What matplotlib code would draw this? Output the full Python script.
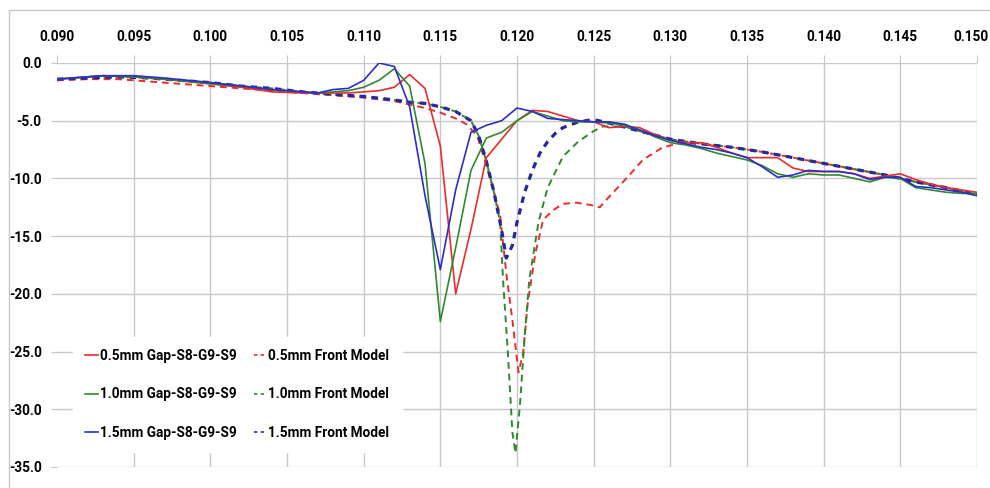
import matplotlib
matplotlib.use("Agg")
import matplotlib.pyplot as plt
import matplotlib.transforms as mtransforms
from matplotlib.patches import Rectangle
from matplotlib.lines import Line2D

plt.rcParams['axes.unicode_minus'] = False
plt.rcParams['font.family'] = ['Roboto', 'DejaVu Sans']

# measured curves (solid)
x_meas = [0.090, 0.093, 0.095, 0.097, 0.100, 0.102, 0.104, 0.106, 0.107, 0.108,
          0.109, 0.110, 0.111, 0.112, 0.113, 0.114, 0.115, 0.116, 0.117, 0.118,
          0.119, 0.120, 0.121, 0.122, 0.123, 0.124, 0.125, 0.126, 0.127, 0.128,
          0.129, 0.130, 0.131, 0.132, 0.133, 0.134, 0.135, 0.136, 0.137, 0.138,
          0.139, 0.140, 0.141, 0.142, 0.143, 0.144, 0.145, 0.146, 0.147, 0.148,
          0.149, 0.150]
y_gap05 = [-1.4, -1.1, -1.2, -1.4, -1.8, -2.1, -2.5, -2.6, -2.6, -2.6,
           -2.6, -2.5, -2.4, -2.1, -1.0, -2.2, -7.2, -20.0, -14.4, -8.2,
           -6.6, -5.0, -4.1, -4.2, -4.6, -5.0, -5.1, -5.6, -5.5, -5.6,
           -6.2, -6.7, -6.9, -6.9, -7.3, -7.8, -8.2, -8.2, -8.2, -9.1,
           -9.4, -9.4, -9.4, -9.6, -10.0, -9.8, -9.6, -10.1, -10.5, -10.8,
           -11.0, -11.2]
y_gap10 = [-1.4, -1.1, -1.2, -1.4, -1.8, -2.0, -2.3, -2.5, -2.6, -2.5,
           -2.4, -2.1, -1.5, -0.5, -2.0, -8.7, -22.4, -16.0, -9.3, -6.5,
           -6.0, -5.0, -4.2, -4.6, -5.0, -5.1, -5.1, -5.2, -5.4, -5.8,
           -6.4, -6.9, -7.1, -7.4, -7.8, -8.1, -8.4, -8.9, -9.6, -9.9,
           -9.6, -9.7, -9.7, -10.0, -10.3, -9.9, -10.0, -10.8, -11.0, -11.2,
           -11.3, -11.3]
y_gap15 = [-1.4, -1.1, -1.1, -1.3, -1.7, -2.0, -2.3, -2.5, -2.6, -2.3,
           -2.2, -1.5, 0.0, -0.3, -3.8, -11.5, -17.9, -11.0, -6.0, -5.4,
           -5.0, -3.9, -4.2, -4.8, -4.9, -5.0, -5.1, -5.1, -5.3, -5.8,
           -6.3, -6.7, -7.0, -7.3, -7.5, -7.8, -8.2, -9.0, -9.9, -9.7,
           -9.3, -9.4, -9.4, -9.6, -10.1, -9.9, -9.9, -10.7, -10.8, -11.0,
           -11.2, -11.5]

# front model curves (dashed)
x_fm05 = [0.090, 0.092, 0.094, 0.096, 0.098, 0.100, 0.102, 0.104, 0.106, 0.108,
          0.110, 0.112, 0.113, 0.114, 0.115, 0.116, 0.1167, 0.1174, 0.1179, 0.1184,
          0.1189, 0.1193, 0.1197, 0.1201, 0.1204, 0.1207, 0.1212, 0.1217, 0.1223, 0.123,
          0.1239, 0.1248, 0.1254, 0.126, 0.1272, 0.1282, 0.1295, 0.1308, 0.132, 0.134,
          0.136, 0.138, 0.140, 0.142, 0.144, 0.146, 0.148, 0.150]
y_fm05 = [-1.5, -1.4, -1.4, -1.6, -1.8, -2.0, -2.2, -2.4, -2.6, -2.8,
          -3.0, -3.3, -3.6, -3.9, -4.3, -4.8, -5.3, -6.3, -8.4, -10.7,
          -13.2, -18.2, -22.3, -26.8, -25.1, -20.8, -16.5, -13.6, -12.8, -12.2,
          -12.1, -12.3, -12.5, -11.6, -9.9, -8.4, -7.3, -6.9, -7.0, -7.3,
          -7.7, -8.2, -8.7, -9.2, -9.7, -10.3, -10.8, -11.4]

x_fm10 = [0.090, 0.092, 0.094, 0.096, 0.098, 0.100, 0.102, 0.104, 0.106, 0.108,
          0.110, 0.112, 0.113, 0.114, 0.115, 0.116, 0.1165, 0.117, 0.1175, 0.118,
          0.1185, 0.1189, 0.1191, 0.1194, 0.1197, 0.1199, 0.1202, 0.1205, 0.1208, 0.1214,
          0.122, 0.123, 0.124, 0.125, 0.1256, 0.127, 0.128, 0.130, 0.132, 0.134,
          0.136, 0.138, 0.140, 0.142, 0.144, 0.146, 0.148, 0.150]
y_fm10 = [-1.4, -1.3, -1.2, -1.3, -1.5, -1.7, -2.0, -2.2, -2.5, -2.7,
          -2.9, -3.2, -3.4, -3.5, -3.8, -4.2, -4.6, -5.0, -6.3, -8.5,
          -11.2, -13.8, -19.0, -25.0, -32.0, -33.8, -29.5, -23.7, -18.8, -13.8,
          -10.8, -8.1, -6.8, -5.9, -5.5, -5.5, -5.9, -6.6, -7.0, -7.3,
          -7.7, -8.2, -8.7, -9.2, -9.7, -10.3, -10.8, -11.4]

x_fm15 = [0.090, 0.092, 0.094, 0.096, 0.098, 0.100, 0.102, 0.104, 0.106, 0.108,
          0.110, 0.112, 0.113, 0.114, 0.115, 0.116, 0.1165, 0.117, 0.1175, 0.118,
          0.1185, 0.119, 0.1193, 0.1197, 0.120, 0.1205, 0.121, 0.1215, 0.122, 0.1225,
          0.123, 0.124, 0.125, 0.126, 0.128, 0.130, 0.132, 0.134, 0.136, 0.138,
          0.140, 0.142, 0.144, 0.146, 0.148, 0.150]
y_fm15 = [-1.4, -1.3, -1.2, -1.3, -1.5, -1.7, -2.0, -2.2, -2.5, -2.7,
          -2.9, -3.2, -3.4, -3.5, -3.8, -4.2, -4.6, -5.0, -6.3, -8.5,
          -11.2, -14.5, -16.9, -15.8, -13.8, -11.2, -9.3, -7.8, -6.8, -6.1,
          -5.6, -5.1, -4.9, -5.2, -5.9, -6.6, -7.0, -7.3, -7.7, -8.2,
          -8.7, -9.2, -9.7, -10.3, -10.8, -11.4]

labels_meas = ['0.5mm Gap-S8-G9-S9', '1.0mm Gap-S8-G9-S9', '1.5mm Gap-S8-G9-S9']
labels_fm = ['0.5mm Front Model', '1.0mm Front Model', '1.5mm Front Model']
x_ticks = [0.090, 0.095, 0.100, 0.105, 0.110, 0.115, 0.120, 0.125, 0.130, 0.135,
           0.140, 0.145, 0.150]
y_ticks = [0.0, -5.0, -10.0, -15.0, -20.0, -25.0, -30.0, -35.0]

red = '#ee2b2b'
green = '#2f8a2f'
blue = '#2d2dcc'
navy = '#28289e'

fig = plt.figure(figsize=(9.9, 4.88), dpi=100)
fig.patches.append(Rectangle((9 / 990, -0.05), 1.1, (488 - 10) / 488 + 0.05,
                             transform=fig.transFigure, fill=False,
                             edgecolor='#c8c8c8', linewidth=1))
ax = fig.add_axes([57 / 990, 21 / 488, 920 / 990, 404 / 488])

ax.plot(x_fm05, y_fm05, color=red, lw=1.4, dashes=(3.5, 2.5), zorder=3)
ax.plot(x_fm10, y_fm10, color=green, lw=1.4, dashes=(3.5, 2.5), zorder=3)
ax.plot(x_fm15, y_fm15, color=navy, lw=2.3, dashes=(2, 1.8), zorder=4)
ax.plot(x_meas, y_gap05, color=red, lw=1.2, zorder=5)
ax.plot(x_meas, y_gap10, color=green, lw=1.2, zorder=5)
ax.plot(x_meas, y_gap15, color=blue, lw=1.2, zorder=6)

ax.set_xlim(0.090, 0.150)
ax.set_ylim(-35, 0)
ax.xaxis.tick_top()
ax.set_xticks(x_ticks)
ax.set_xticklabels(['%.3f' % v for v in x_ticks])
ax.set_yticks(y_ticks)
ax.set_yticklabels(['%.1f' % v for v in y_ticks])
ax.tick_params(axis='x', length=6, color='#c8c8c8', pad=8, labelsize=9.8)
ax.tick_params(axis='y', length=4, color='#c8c8c8', pad=7, labelsize=9.8)
for lab in ax.get_xticklabels() + ax.get_yticklabels():
    lab.set_fontweight('bold')
# last label sits against the right edge, as in the original
last = ax.get_xticklabels()[-1]
last.set_horizontalalignment('right')
last.set_transform(last.get_transform() +
                   mtransforms.ScaledTranslation(12 / 100, 0, fig.dpi_scale_trans))
ax.grid(True, color='#c8c8c8', linewidth=1)
ax.xaxis.get_gridlines()[0].set_visible(False)
for s in ax.spines.values():
    s.set_visible(False)

handles = [Line2D([], [], color=red, lw=1.2), Line2D([], [], color=green, lw=1.2),
           Line2D([], [], color=blue, lw=1.2),
           Line2D([], [], color=red, lw=1.2, dashes=(2, 2)),
           Line2D([], [], color=green, lw=1.2, dashes=(2, 2)),
           Line2D([], [], color=blue, lw=1.2, dashes=(2, 2))]
leg = ax.legend(handles, labels_meas + labels_fm, ncol=2, loc='lower left',
                bbox_to_anchor=(0.01, 0.02), frameon=True, fancybox=False,
                edgecolor='white', framealpha=1, handlelength=0.9,
                handletextpad=0.15, columnspacing=1.3, labelspacing=1.8,
                prop={'size': 9.8, 'weight': 'bold'}, borderpad=0.9)
leg.set_zorder(10)

fig.savefig('out.png', dpi=100)
